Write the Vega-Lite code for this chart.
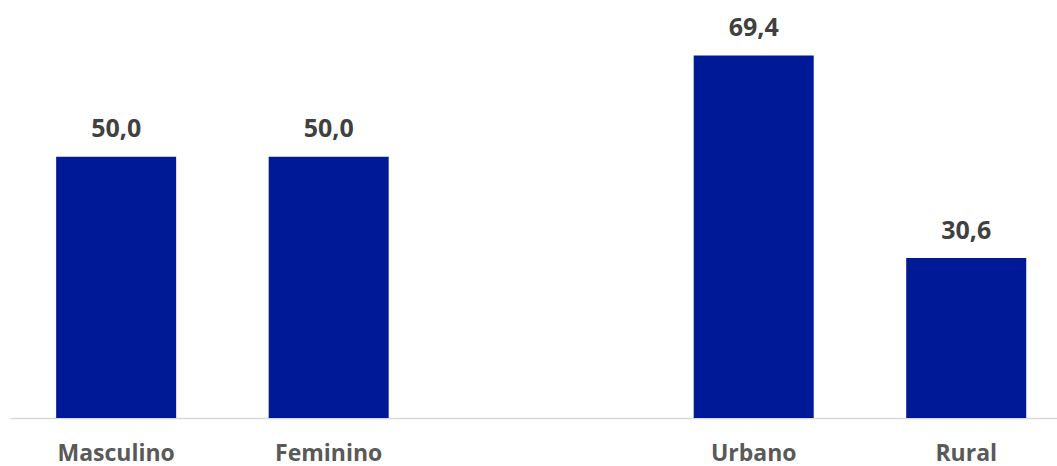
{
  "$schema": "https://vega.github.io/schema/vega-lite/v6.json",
  "width": 1047,
  "height": 418,
  "autosize": "none",
  "padding": {"left": 10, "top": 0, "right": 0, "bottom": 48},
  "background": "white",
  "config": {"view": {"stroke": null}},
  "data": {"values": [
    {"cat": "Masculino", "val": 50.0, "lab": "50,0"},
    {"cat": "Feminino", "val": 50.0, "lab": "50,0"},
    {"cat": "Urbano", "val": 69.4, "lab": "69,4"},
    {"cat": "Rural", "val": 30.6, "lab": "30,6"}
  ]},
  "encoding": {
    "x": {
      "field": "cat", "type": "nominal",
      "scale": {"domain": ["Masculino", "Feminino", " ", "Urbano", "Rural"], "paddingInner": 0.4353, "paddingOuter": 0.181, "align": 0.6},
      "axis": {"title": null, "labelAngle": 0, "ticks": false, "tickSize": 0, "labelPadding": 42, "labelBaseline": "alphabetic",
        "labelFont": "Open Sans", "labelFontSize": 23, "labelFontWeight": "bold", "labelColor": "#595959",
        "domainColor": "#d9d9d9", "domainWidth": 1.5, "grid": false}
    },
    "y": {
      "field": "val", "type": "quantitative",
      "scale": {"domain": [0, 80], "nice": false},
      "axis": null
    }
  },
  "layer": [
    {"mark": {"type": "bar", "color": "#001996"}},
    {"mark": {"type": "text", "dy": -19.5, "baseline": "alphabetic", "font": "Open Sans", "fontSize": 25, "fontWeight": "bold", "color": "#404040"},
     "encoding": {"text": {"field": "lab", "type": "nominal"}}}
  ]
}
